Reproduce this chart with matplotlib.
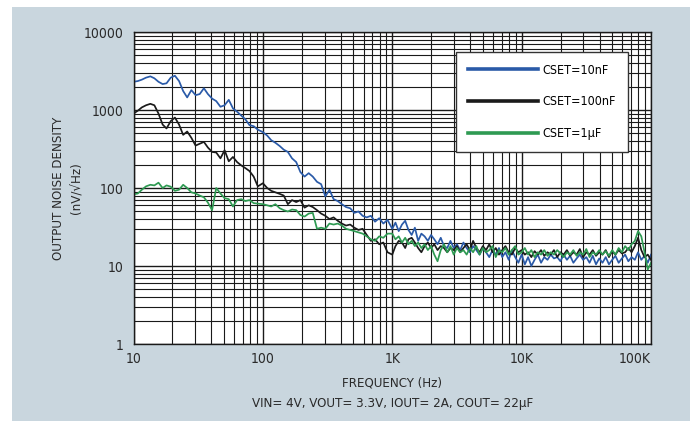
import matplotlib
matplotlib.use('Agg')
import matplotlib.pyplot as plt
from matplotlib.patches import Rectangle
from matplotlib.ticker import FixedLocator, LogLocator, NullFormatter

plt.rcParams['font.family'] = ['DejaVu Sans']
plt.rcParams['font.stretch'] = 'condensed'

# frequency sweep (Hz)
freq = [10, 10.8, 11.6, 12.5, 13.5, 14.5, 15.6, 16.8, 18, 19.4, 20.9, 22.5, 24.2, 26, 28,
        30.2, 32.5, 35, 37.6, 40.5, 43.6, 47, 50.6, 54.5, 58.7, 63.2, 68, 73.2, 78.8, 84.9, 91.4,
        100, 108, 116, 125, 135, 145, 156, 168, 181, 195, 210, 226, 243, 262, 282,
        304, 327, 352, 379, 408, 439, 473, 509, 548, 590, 635, 684, 736, 793, 853, 919,
        1000, 1059, 1122, 1189, 1259, 1334, 1413, 1496, 1585, 1679, 1778, 1884, 1995, 2113, 2239, 2371,
        2512, 2661, 2818, 2985, 3162, 3350, 3548, 3758, 3981, 4217, 4467, 4732, 5012, 5309, 5623, 5957,
        6310, 6683, 7079, 7499, 7943, 8414, 8913, 9441,
        10000, 10590, 11220, 11890, 12590, 13340, 14130, 14960, 15850, 16790, 17780, 18840, 19950,
        21130, 22390, 23710, 25120, 26610, 28180, 29850, 31620, 33500, 35480, 37580, 39810, 42170,
        44670, 47320, 50120, 53090, 56230, 59570, 63100, 66830, 70790, 74990, 79430, 84140, 89130,
        94410, 100000]

# output noise density (nV/rtHz)
cset_10n = [2300, 2350, 2450, 2600, 2700, 2550, 2300, 2150, 2200, 2600, 2750, 2350, 1750, 1450, 1800,
            1550, 1600, 1900, 1600, 1400, 1300, 1100, 1150, 1350, 1050, 950, 850, 760, 640, 620, 560,
            520, 470, 410, 380, 345, 310, 290, 240, 215, 160, 140, 155, 140, 120, 112,
            78, 95, 72, 68, 62, 57, 55, 48, 50, 44, 42, 44, 37, 41, 35, 39,
            30, 36, 28, 34, 38, 29, 25, 31, 21, 26, 24, 21, 25, 22, 19, 23,
            18, 17, 21, 17, 19, 16, 20, 17, 15, 18, 16, 14, 17, 15, 13, 16,
            14, 17, 13, 15, 12, 16, 13, 11,
            14, 10.5, 13, 10, 12, 14, 11, 13, 12, 14, 12.5, 13, 11.5,
            14, 12, 13.5, 11, 12.5, 14, 12, 13, 11, 13.5, 10.5, 12.5, 11,
            13, 10.5, 12, 13.5, 11, 12.5, 14, 11.5, 13, 12, 15, 12, 13.5,
            11, 14]

cset_100n = [900, 980, 1080, 1150, 1200, 1150, 900, 650, 580, 720, 800, 650, 480, 530, 440,
             350, 370, 390, 330, 290, 285, 240, 305, 220, 250, 215, 195, 180, 165, 140, 105,
             115, 100, 92, 88, 84, 80, 62, 70, 66, 70, 56, 60, 57, 52, 47,
             44, 40, 42, 38, 35, 33, 34, 31, 29, 30, 25, 21, 22, 19, 20, 15,
             14, 18, 21, 20, 17, 22, 23, 20, 17, 15, 18, 20, 17, 19, 16, 18,
             17, 15, 17, 16, 18, 15, 17, 19, 16, 21, 17, 15, 18, 16, 19, 15,
             17, 14, 16, 18, 15, 14, 17, 15,
             16, 14, 15, 13, 15.5, 14, 16, 13.5, 15, 14, 16, 13, 15,
             14, 16, 13.5, 15, 14, 16.5, 13, 15, 14, 16, 13.5, 15, 14,
             16, 13, 15.5, 14, 16, 14.5, 15, 17, 15, 18, 23, 16, 13,
             14, 12]

cset_1u = [83, 85, 95, 105, 110, 108, 117, 100, 108, 104, 92, 95, 110, 100, 88,
           85, 80, 76, 65, 52, 100, 85, 74, 72, 58, 70, 72, 68, 70, 64, 63,
           62, 60, 58, 62, 55, 52, 50, 53, 52, 45, 43, 47, 48, 30, 31,
           30, 35, 34, 35, 33, 30, 29, 28, 27, 26, 24, 22, 21, 24, 23, 26,
           26, 22, 24, 20, 23, 19, 21, 18, 20, 17, 19, 16, 18, 14, 11.5, 16,
           19, 15, 18, 14, 17, 15, 16, 14, 17, 15, 18, 14, 17, 15, 16, 18,
           13, 16, 15, 17, 14, 16, 18, 14,
           15, 17, 14, 16, 13, 15, 14, 16, 13.5, 15, 14, 16, 14.5,
           13, 15, 14, 16, 13.5, 15, 14, 16.5, 13, 15, 14, 16, 14,
           15.5, 13.5, 16, 14, 17, 15, 18, 16, 19, 21, 28, 24, 15,
           9, 11]

series_labels = ['CSET=10nF', 'CSET=100nF', 'CSET=1\u03bcF']
series_colors = ['#2a5aa8', '#1a1a1a', '#2e9a52']

x_ticks = [10, 100, 1000, 10000, 100000]
x_ticklabels = ['10', '100', '1K', '10K', '100K']
y_ticks = [1, 10, 100, 1000, 10000]
y_ticklabels = ['1', '10', '100', '1000', '10000']

fig = plt.figure(figsize=(6.96, 4.21), dpi=100)
fig.patch.set_facecolor('white')
fig.patches.append(Rectangle((12 / 696, 0), 678 / 696, 414 / 421, transform=fig.transFigure,
                             facecolor='#c9d6de', edgecolor='none', zorder=-10))

ax = fig.add_axes([133.5 / 696, 77 / 421, 517.5 / 696, 312 / 421])
ax.set_facecolor('white')
ax.set_xscale('log')
ax.set_yscale('log')
ax.set_xlim(10, 100000)
ax.set_ylim(1, 10000)

for vals, lab, col in zip([cset_10n, cset_100n, cset_1u], series_labels, series_colors):
    ax.plot(freq, vals, color=col, lw=1.25, label=lab)

ax.xaxis.set_major_locator(FixedLocator(x_ticks))
ax.set_xticklabels(x_ticklabels)
ax.yaxis.set_major_locator(FixedLocator(y_ticks))
ax.set_yticklabels(y_ticklabels)
ax.xaxis.set_minor_locator(LogLocator(base=10, subs=range(2, 10), numticks=20))
ax.yaxis.set_minor_locator(LogLocator(base=10, subs=range(2, 10), numticks=20))
ax.xaxis.set_minor_formatter(NullFormatter())
ax.yaxis.set_minor_formatter(NullFormatter())
ax.tick_params(which='both', length=0, labelsize=10, colors='#2a2a2a')
ax.tick_params(axis='x', pad=6)
ax.tick_params(axis='y', pad=7)
ax.xaxis.get_majorticklabels()[-1].set_horizontalalignment('right')

ax.grid(True, which='major', color='#1a1a1a', lw=1.0)
ax.grid(True, which='minor', color='#1a1a1a', lw=0.8)
ax.set_axisbelow(True)
for s in ax.spines.values():
    s.set_color('#1a1a1a')
    s.set_linewidth(1.0)

ax.set_xlabel('FREQUENCY (Hz)', fontsize=9.5, color='#2a2a2a', labelpad=7)
ax.set_ylabel('OUTPUT NOISE DENSITY\n(nV/\u221aHz)', fontsize=9.5, color='#2a2a2a',
              labelpad=0, linespacing=1.6)
fig.text(0.5 * (133.5 + 651) / 696, 1 - 403 / 421, 'VIN= 4V, VOUT= 3.3V, IOUT= 2A, COUT= 22\u03bcF',
         ha='center', va='center', fontsize=9.5, color='#2a2a2a')

leg = ax.legend(loc='upper left', bbox_to_anchor=(0.623, 0.937), fontsize=9,
                handlelength=5.6, labelspacing=1.5, borderpad=0.95, handletextpad=0.4,
                fancybox=False, framealpha=1, edgecolor='#333333', borderaxespad=0)
leg.get_frame().set_linewidth(1.0)
for line in leg.get_lines():
    line.set_linewidth(2.6)

fig.savefig('out.png', dpi=100, facecolor=fig.get_facecolor())
